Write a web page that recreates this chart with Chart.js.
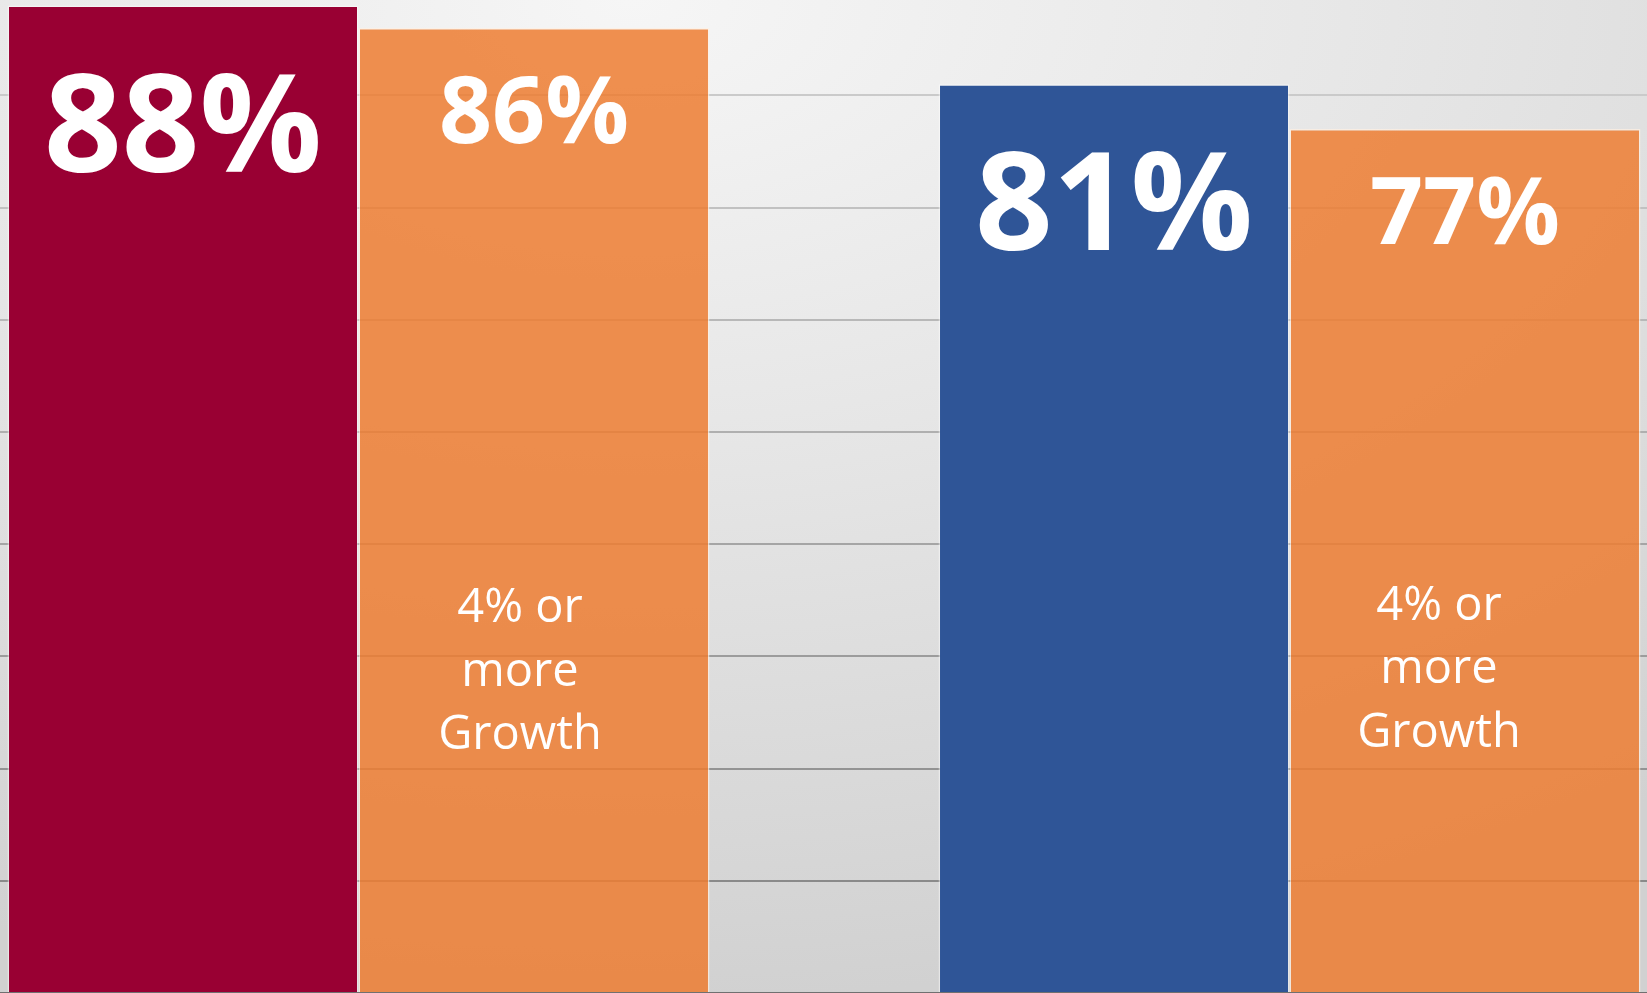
<!DOCTYPE html>
<html>
<head>
<meta charset="utf-8">
<script src="https://cdn.jsdelivr.net/npm/chart.js@4.4.1/dist/chart.umd.min.js"></script>
<style>
    html, body {
        margin: 0;
        padding: 0;
        width: 1647px;
        height: 993px;
        overflow: hidden;
        background: radial-gradient(ellipse 1700px 1000px at 630px 0px, #f6f6f6 0%, #e6e6e6 45%, #d1d1d1 100%);
    }
    #wrap {
        position: absolute;
        left: -107px;
        top: 0;
        width: 1862px;
        height: 993px;
    }
</style>
</head>
<body>
<div id="wrap"><canvas id="chart" width="1862" height="993"></canvas></div>
<script>
const categories = ['Group 1', 'Group 2'];
const leadValues = [88, 81];
const growthValues = [86, 77];
const growthNote = ['4% or', 'more', 'Growth'];

const leadColors = ['#990033', '#2f5597'];
const orange = 'rgba(237, 125, 49, 0.85)';

// grey gridlines that get darker towards the bottom
function gridColor(ctx) {
    const v = ctx.tick.value;
    if (v <= 0 || v % 10 !== 0) return 'rgba(0,0,0,0)';
    const t = (v - 10) / 70;
    const c = Math.round(138 + t * (202 - 138));
    return `rgb(${c}, ${c}, ${c})`;
}

// percentage labels inside the bars, plus the note on the orange bars
const barLabels = {
    id: 'barLabels',
    afterDatasetsDraw(chart, args, opts) {
        const ctx = chart.ctx;
        const yScale = chart.scales.y;
        ctx.save();
        ctx.fillStyle = '#ffffff';
        ctx.textAlign = 'center';
        ctx.textBaseline = 'alphabetic';

        chart.data.datasets.forEach((ds, di) => {
            const meta = chart.getDatasetMeta(di);
            const style = opts.styles[di];
            meta.data.forEach((bar, i) => {
                ctx.font = style.font;
                ctx.fillText(ds.data[i] + '%', bar.x, bar.y + style.baseline);

                if (di === 1) {
                    ctx.font = opts.noteFont;
                    const midY = yScale.getPixelForValue(opts.noteValue[i]);
                    const x = bar.x + opts.noteOffsetX[i];
                    growthNote.forEach((line, li) => {
                        ctx.fillText(line, x, midY + (li - 1) * opts.noteLineHeight);
                    });
                }
            });
        });
        ctx.restore();
    }
};

new Chart(document.getElementById('chart').getContext('2d'), {
    type: 'bar',
    data: {
        labels: categories,
        datasets: [
            {
                label: 'All',
                data: leadValues,
                backgroundColor: leadColors,
                borderColor: 'rgba(255, 255, 255, 0.45)',
                borderWidth: 1.5,
                barPercentage: 1,
                categoryPercentage: 0.754
            },
            {
                label: '4% or more Growth',
                data: growthValues,
                backgroundColor: orange,
                borderColor: 'rgba(255, 240, 225, 0.7)',
                borderWidth: 1.5,
                barPercentage: 1,
                categoryPercentage: 0.754
            }
        ]
    },
    options: {
        responsive: false,
        maintainAspectRatio: false,
        animation: false,
        layout: { padding: 0 },
        plugins: {
            legend: { display: false },
            title: { display: false },
            tooltip: { enabled: false },
            barLabels: {
                styles: [
                    { font: 'bold 136px "Open Sans"', baseline: 166 },
                    { font: 'bold 93px "Open Sans"', baseline: 115 }
                ],
                noteFont: '47px "Open Sans"',
                noteValue: [27.4, 27.6],
                noteOffsetX: [-14, -26],
                noteLineHeight: 63.5
            }
        },
        scales: {
            x: {
                grid: { display: false, drawTicks: false },
                ticks: { display: false },
                border: { display: true, color: '#707070', width: 2 }
            },
            y: {
                min: 0,
                max: 88.5,
                ticks: { display: false, stepSize: 10 },
                grid: { drawTicks: false, color: gridColor, lineWidth: 2 },
                border: { display: false }
            }
        }
    },
    plugins: [barLabels]
});
</script>
</body>
</html>
